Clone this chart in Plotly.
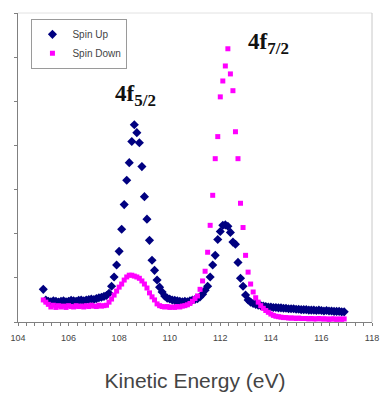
import plotly.graph_objects as go

energy = [
    105.0, 105.1, 105.2, 105.3, 105.4, 105.5, 105.6, 105.7, 105.8, 105.9,
    106.0, 106.1, 106.2, 106.3, 106.4, 106.5, 106.6, 106.7, 106.8, 106.9,
    107.0, 107.1, 107.2, 107.3, 107.4, 107.5, 107.6, 107.7, 107.8, 107.9,
    108.0, 108.1, 108.2, 108.3, 108.4, 108.5, 108.6, 108.7, 108.8, 108.9,
    109.0, 109.1, 109.2, 109.3, 109.4, 109.5, 109.6, 109.7, 109.8, 109.9,
    110.0, 110.1, 110.2, 110.3, 110.4, 110.5, 110.6, 110.7, 110.8, 110.9,
    111.0, 111.1, 111.2, 111.3, 111.4, 111.5, 111.6, 111.7, 111.8, 111.9,
    112.0, 112.1, 112.2, 112.3, 112.4, 112.5, 112.6, 112.7, 112.8, 112.9,
    113.0, 113.1, 113.2, 113.3, 113.4, 113.5, 113.6, 113.7, 113.8, 113.9,
    114.0, 114.1, 114.2, 114.3, 114.4, 114.5, 114.6, 114.7, 114.8, 114.9,
    115.0, 115.1, 115.2, 115.3, 115.4, 115.5, 115.6, 115.7, 115.8, 115.9,
    116.0, 116.1, 116.2, 116.3, 116.4, 116.5, 116.6, 116.7, 116.8, 116.9,
]

spin_up = [
    0.74, 0.50, 0.47, 0.46, 0.48, 0.47, 0.45, 0.47, 0.48, 0.46,
    0.47, 0.49, 0.48, 0.47, 0.49, 0.50, 0.48, 0.50, 0.51, 0.52,
    0.51, 0.53, 0.55, 0.56, 0.58, 0.60, 0.65, 0.81, 1.02, 1.29,
    1.60, 2.10, 2.66, 3.21, 3.61, 4.09, 4.47, 4.29, 4.06, 3.52,
    2.84, 2.33, 1.85, 1.40, 1.17, 0.95, 0.79, 0.68, 0.59, 0.54,
    0.52, 0.50, 0.49, 0.48, 0.47, 0.46, 0.47, 0.46, 0.48, 0.50,
    0.51, 0.53, 0.57, 0.63, 0.72, 0.81, 1.02, 1.29, 1.51, 1.87,
    2.05, 2.19, 2.20, 2.17, 2.03, 1.81, 1.76, 1.35, 0.99, 0.81,
    0.61, 0.50, 0.45, 0.42, 0.40, 0.38, 0.37, 0.36, 0.35, 0.34,
    0.34, 0.33, 0.33, 0.32, 0.32, 0.31, 0.31, 0.30, 0.30, 0.30,
    0.29, 0.29, 0.28, 0.28, 0.28, 0.27, 0.27, 0.27, 0.26, 0.27,
    0.26, 0.25, 0.26, 0.25, 0.25, 0.24, 0.24, 0.24, 0.23, 0.23,
]

spin_down = [
    0.50, 0.45, 0.40, 0.34, 0.38, 0.33, 0.37, 0.34, 0.36, 0.33,
    0.37, 0.35, 0.34, 0.37, 0.35, 0.36, 0.34, 0.37, 0.35, 0.38,
    0.36, 0.35, 0.38, 0.36, 0.37, 0.38, 0.45, 0.52, 0.61, 0.70,
    0.79, 0.86, 0.95, 1.02, 1.06, 1.06, 1.04, 1.02, 0.99, 0.93,
    0.86, 0.77, 0.66, 0.57, 0.50, 0.41, 0.37, 0.35, 0.34, 0.35,
    0.33, 0.34, 0.33, 0.35, 0.34, 0.36, 0.37, 0.39, 0.42, 0.47,
    0.53, 0.59, 0.74, 0.93, 1.15, 1.58, 2.19, 2.87, 3.70, 4.20,
    5.10, 5.46, 5.80, 6.19, 5.62, 5.24, 4.31, 3.70, 2.69, 2.14,
    1.51, 1.13, 0.86, 0.68, 0.55, 0.45, 0.37, 0.31, 0.26, 0.22,
    0.18, 0.15, 0.13, 0.12, 0.11, 0.10, 0.10, 0.09, 0.09, 0.09,
    0.08, 0.09, 0.08, 0.08, 0.08, 0.07, 0.08, 0.07, 0.07, 0.08,
    0.07, 0.07, 0.07, 0.06, 0.07, 0.07, 0.06, 0.07, 0.06, 0.07,
]

x_ticks = [104, 106, 108, 110, 112, 114, 116, 118]

fig = go.Figure()
fig.add_trace(go.Scatter(
    x=energy, y=spin_up, mode="markers", name="Spin Up",
    marker=dict(symbol="diamond", size=7, color="#000080"),
))
fig.add_trace(go.Scatter(
    x=energy, y=spin_down, mode="markers", name="Spin Down",
    marker=dict(symbol="square", size=5, color="#FF00FF"),
))

label_font = dict(family="Liberation Serif", size=23, color="#111")
fig.add_annotation(x=108.65, y=5.12, xref="x", yref="y", showarrow=False,
                   text="<b>4f<sub><span style='font-size:17px'>5/2</span></sub></b>",
                   font=label_font)
fig.add_annotation(x=113.9, y=6.3, xref="x", yref="y", showarrow=False,
                   text="<b>4f<sub><span style='font-size:17px'>7/2</span></sub></b>",
                   font=label_font)

# top and right frame lines
fig.add_shape(type="line", xref="paper", yref="paper", x0=0, x1=1, y0=1, y1=1,
              line=dict(color="#e2e2e2", width=1))
fig.add_shape(type="line", xref="paper", yref="paper", x0=1, x1=1, y0=0, y1=1,
              line=dict(color="#c8c8c8", width=1))

fig.update_layout(
    width=389, height=398,
    margin=dict(l=14, r=10, t=13, b=75),
    paper_bgcolor="white", plot_bgcolor="white",
    font=dict(family="Liberation Sans", color="#333"),
    showlegend=True,
    legend=dict(x=0.038, y=0.981, xanchor="left", yanchor="top",
                bgcolor="white", bordercolor="#9a9a9a", borderwidth=1,
                font=dict(size=10, color="#444"), itemsizing="trace",
                itemwidth=30, tracegroupgap=0),
    xaxis=dict(
        range=[104, 118], tickvals=x_ticks, ticktext=[str(t) for t in x_ticks],
        showgrid=False, zeroline=False, showline=True, linecolor="#808080",
        linewidth=1, ticks="outside", ticklen=3, tickcolor="#808080",
        ticklabelstandoff=4,
        tickfont=dict(size=9, color="#444"),
        minor=dict(dtick=1/3, tick0=104, ticks="outside", ticklen=3,
                   tickcolor="#808080", showgrid=False),
        title=dict(text="Kinetic Energy (eV)", standoff=31,
                   font=dict(size=21, color="#444")),
    ),
    yaxis=dict(
        range=[0, 7], dtick=1, tick0=0, showticklabels=False,
        showgrid=False, zeroline=False, showline=True, linecolor="#808080",
        linewidth=1, ticks="outside", ticklen=3, tickcolor="#808080",
    ),
)

fig.write_html("out.html", config={"displayModeBar": False},
               post_script="document.body.style.margin='0px';")
